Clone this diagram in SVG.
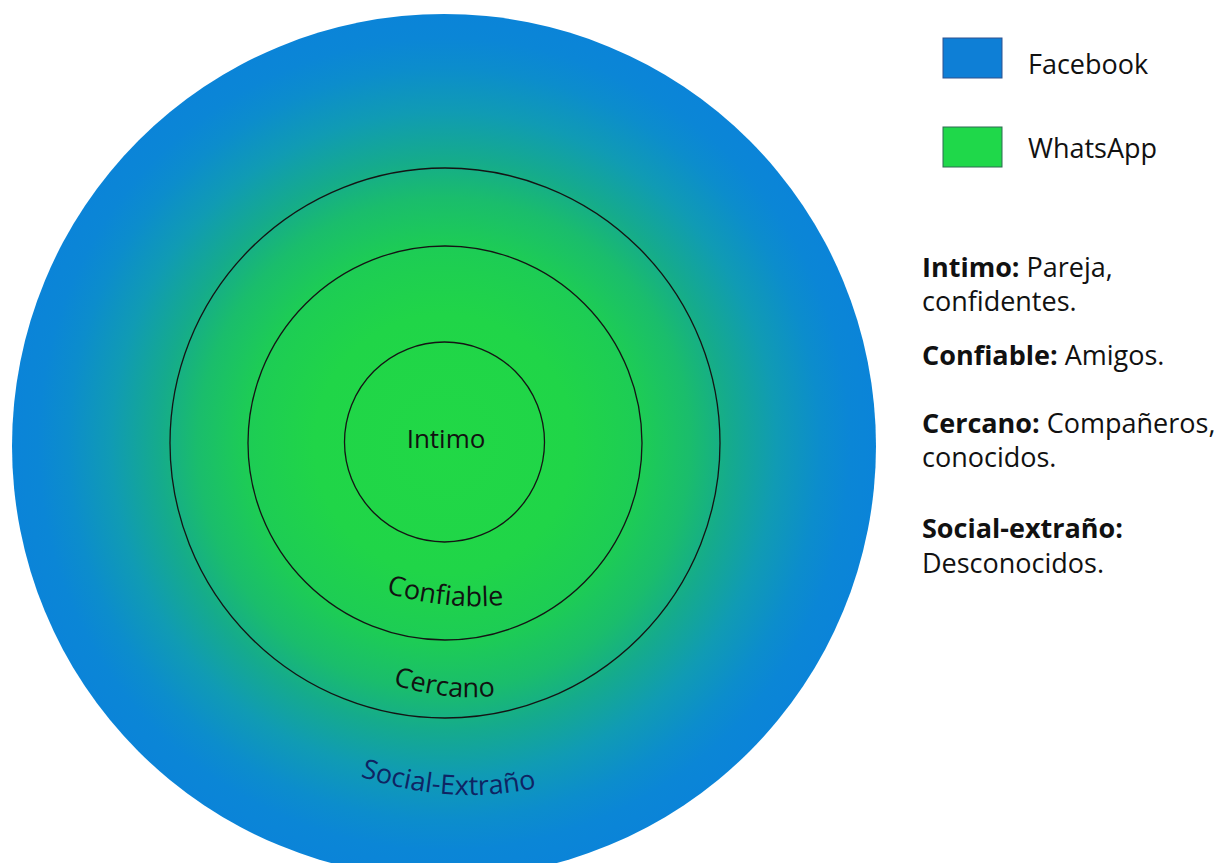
<svg xmlns="http://www.w3.org/2000/svg" width="1218" height="863" viewBox="0 0 1218 863">
  <style>
    .lbl { font-family: "Open Sans", "Liberation Sans", sans-serif; font-size: 26px; fill: #111; }
    .arc { font-size: 27px; }
    .leg { font-family: "Open Sans", "Liberation Sans", sans-serif; font-size: 27px; fill: #111; }
    .b { font-weight: bold; }
    .ring { fill: none; stroke: #141414; stroke-width: 1.3; }
  </style>
  <defs>
    <radialGradient id="grad" gradientUnits="userSpaceOnUse" cx="444" cy="444" r="432">
      <stop offset="0" stop-color="#21d846"/>
      <stop offset="0.3" stop-color="#20d548"/>
      <stop offset="0.46" stop-color="#1dcc55"/>
      <stop offset="0.57" stop-color="#1abd6c"/>
      <stop offset="0.66" stop-color="#15ab8c"/>
      <stop offset="0.77" stop-color="#109bb4"/>
      <stop offset="0.87" stop-color="#0c8dcc"/>
      <stop offset="0.94" stop-color="#0b86d6"/>
      <stop offset="1" stop-color="#0b84d8"/>
    </radialGradient>
    <path id="pConf" d="M 380 591 Q 448 612 510 604"/>
    <path id="pCerc" d="M 388 683 Q 450 703 500 695"/>
    <path id="pSoc" d="M 350 773 Q 455 810 547 785"/>
  </defs>

  <g id="social">
    <circle cx="444" cy="446" r="432" fill="url(#grad)"/>
    <text class="lbl arc" style="fill:#0f2463"><textPath href="#pSoc" startOffset="50%" text-anchor="middle">Social-Extraño</textPath></text>
  </g>
  <g id="cercano">
    <circle class="ring" cx="445" cy="443" r="275"/>
    <text class="lbl arc"><textPath href="#pCerc" startOffset="50%" text-anchor="middle">Cercano</textPath></text>
  </g>
  <g id="confiable">
    <circle class="ring" cx="445" cy="443" r="197"/>
    <text class="lbl arc"><textPath href="#pConf" startOffset="50%" text-anchor="middle">Confiable</textPath></text>
  </g>
  <g id="intimo">
    <circle class="ring" cx="444.5" cy="442" r="100"/>
    <text class="lbl" x="446" y="448" text-anchor="middle">Intimo</text>
  </g>

  <g id="connectors"/>

  <g id="legend-facebook">
    <rect x="943" y="38" width="59" height="40" fill="#0e7fd6" stroke="#2f528f" stroke-width="1"/>
    <text class="leg" x="1028" y="74">Facebook</text>
  </g>
  <g id="legend-whatsapp">
    <rect x="943" y="127" width="59" height="40" fill="#1fd84a" stroke="#2f6a52" stroke-width="1"/>
    <text class="leg" x="1028" y="158">WhatsApp</text>
  </g>

  <g id="descriptions">
    <text class="leg" x="922" y="277"><tspan class="b">Intimo:</tspan> Pareja,</text>
    <text class="leg" x="922" y="311">confidentes.</text>
    <text class="leg" x="922" y="365"><tspan class="b">Confiable:</tspan> Amigos.</text>
    <text class="leg" x="922" y="433"><tspan class="b">Cercano:</tspan> Compañeros,</text>
    <text class="leg" x="922" y="467">conocidos.</text>
    <text class="leg b" x="922" y="538">Social-extraño:</text>
    <text class="leg" x="922" y="573">Desconocidos.</text>
  </g>
</svg>
